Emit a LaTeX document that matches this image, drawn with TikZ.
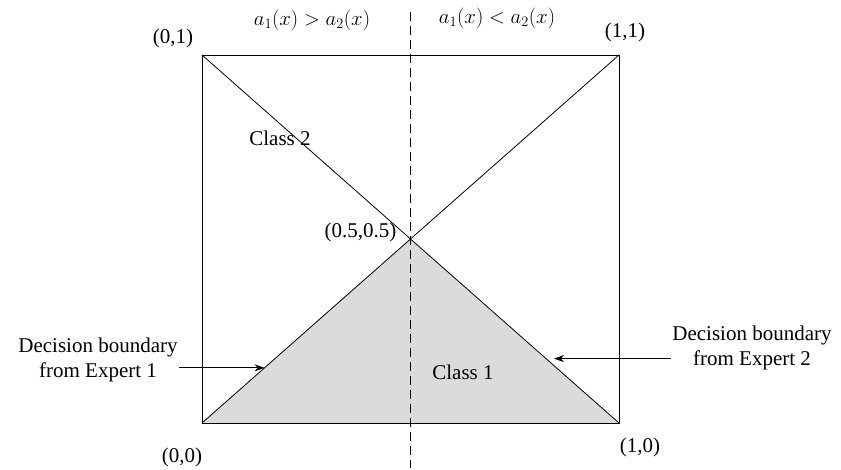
\documentclass[tikz,border=0pt]{standalone}
\usepackage{fontspec}
\setmainfont{Liberation Serif}
\usetikzlibrary{arrows.meta,calc}

\begin{document}
\begin{tikzpicture}[
  x=1pt,y=-1pt,
  lbl/.style={font=\fontsize{21}{25}\selectfont, inner sep=1pt},
  frame/.style={draw=black, line width=0.9pt},
  bnd/.style={draw=black, line width=0.8pt},
  divider/.style={draw=black, line width=0.9pt, dash pattern=on 9pt off 5pt},
  arr/.style={draw=black, line width=0.8pt, -{Stealth[length=10pt,width=7pt]}}]
\useasboundingbox (0,0) rectangle (841,470);
\coordinate (p00) at (202,423);
\coordinate (p10) at (619,423);
\coordinate (p01) at (202,55);
\coordinate (p11) at (619,55);
\coordinate (pc) at ($(p00)!0.5!(p11)$);
\fill[black!14] (p00) -- (pc) -- (p10) -- cycle;
\draw[frame] (p00) rectangle (p11);
\draw[bnd] (p00) -- (p11);
\draw[bnd] (p01) -- (p10);
\draw[divider] (pc |- 0,12) -- (pc |- 0,468);
\node[lbl] (l01) at (173,38) {(0,1)};
\node[lbl] (l11) at (625,32) {(1,1)};
\node[lbl] (l00) at (182,457) {(0,0)};
\node[lbl] (l10) at (640,447) {(1,0)};
\node[lbl, anchor=east] (lc) at ([xshift=-13pt,yshift=7pt]pc) {(0.5,0.5)};
\node[lbl] (gt) at (312,20) {$a_1(x) > a_2(x)$};
\node[lbl] (lt) at (497,18) {$a_1(x) < a_2(x)$};
\node[lbl] (cl2) at (280,138) {Class 2};
\node[lbl] (cl1) at (463,372) {Class 1};
\node[lbl, align=center] (db1) at (98,360) {Decision boundary\\from Expert 1};
\node[lbl, align=center] (db2) at (752,348) {Decision boundary\\from Expert 2};
\coordinate (t1) at ($(p00)!0.3!(pc)$);
\coordinate (t2) at ([xshift=8pt]$(p10)!0.35!(pc)$);
\draw[arr] (db1.east |- t1) -- (t1);
\draw[arr] (db2.west |- t2) -- (t2);
\end{tikzpicture}
\end{document}
